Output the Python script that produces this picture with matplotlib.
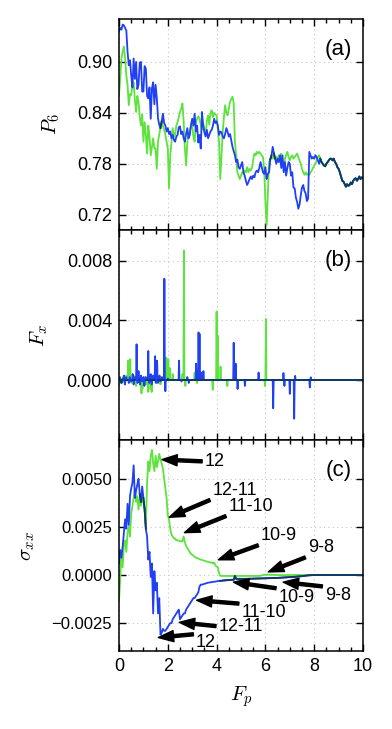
"""Three stacked panels: P6, Fx and sigma_xx against the driving force Fp."""
import matplotlib
matplotlib.use("Agg")
import matplotlib.pyplot as plt
import numpy as np
from matplotlib.ticker import FixedLocator, FuncFormatter, MultipleLocator

GREEN = "#5ce33c"
BLUE = "#1f40f5"
DARK = "#0e3a5c"

# ---- panel (a): P6, one value every 0.05 in Fp (0 .. 10) ----
p6_blue = [
    0.936, 0.940, 0.938, 0.944, 0.943, 0.940, 0.937, 0.912, 0.896, 0.902,
    0.884, 0.870, 0.904, 0.880, 0.900, 0.868, 0.873, 0.899, 0.900, 0.865,
    0.865, 0.895, 0.892, 0.860, 0.857, 0.870, 0.833, 0.869, 0.876, 0.850,
    0.873, 0.857, 0.833, 0.826, 0.822, 0.830, 0.839, 0.828, 0.825, 0.818,
    0.822, 0.815, 0.818, 0.810, 0.814, 0.808, 0.806, 0.812, 0.814, 0.823,
    0.824, 0.815, 0.818, 0.810, 0.806, 0.815, 0.822, 0.810, 0.814, 0.826,
    0.833, 0.825, 0.839, 0.818, 0.825, 0.805, 0.814, 0.798, 0.841, 0.825,
    0.817, 0.812, 0.820, 0.810, 0.814, 0.818, 0.820, 0.825, 0.833, 0.828,
    0.830, 0.825, 0.814, 0.818, 0.817, 0.812, 0.810, 0.815, 0.822, 0.818,
    0.812, 0.815, 0.808, 0.800, 0.795, 0.790, 0.782, 0.785, 0.776, 0.774,
    0.778, 0.782, 0.770, 0.766, 0.760, 0.755, 0.758, 0.762, 0.765, 0.762,
    0.766, 0.764, 0.770, 0.772, 0.770, 0.775, 0.782, 0.776, 0.770, 0.768,
    0.776, 0.762, 0.768, 0.770, 0.785, 0.790, 0.800, 0.792, 0.786, 0.780,
    0.786, 0.782, 0.790, 0.775, 0.790, 0.770, 0.782, 0.766, 0.775, 0.782,
    0.780, 0.766, 0.770, 0.752, 0.751, 0.740, 0.735, 0.727, 0.732, 0.743,
    0.752, 0.755, 0.748, 0.745, 0.736, 0.739, 0.794, 0.790, 0.786, 0.788,
    0.786, 0.790, 0.788, 0.784, 0.780, 0.786, 0.782, 0.780, 0.778, 0.777,
    0.780, 0.782, 0.784, 0.786, 0.786, 0.784, 0.786, 0.782, 0.780, 0.776,
    0.774, 0.770, 0.765, 0.760, 0.759, 0.756, 0.753, 0.756, 0.754, 0.755,
    0.758, 0.756, 0.760, 0.762, 0.763, 0.760, 0.762, 0.765, 0.762, 0.764,
    0.763,
]
# green only up to Fp = 8.45, from there it lies on the blue curve
p6_green_head = [
    0.861, 0.880, 0.904, 0.912, 0.918, 0.904, 0.884, 0.873, 0.849, 0.862,
    0.861, 0.872, 0.876, 0.855, 0.841, 0.860, 0.853, 0.835, 0.825, 0.838,
    0.806, 0.829, 0.814, 0.792, 0.825, 0.812, 0.790, 0.800, 0.810, 0.798,
    0.798, 0.774, 0.806, 0.815, 0.822, 0.830, 0.825, 0.820, 0.814, 0.806,
    0.798, 0.751, 0.790, 0.805, 0.822, 0.812, 0.814, 0.825, 0.829, 0.835,
    0.841, 0.845, 0.851, 0.830, 0.798, 0.778, 0.806, 0.815, 0.818, 0.825,
    0.825, 0.812, 0.806, 0.828, 0.833, 0.836, 0.833, 0.826, 0.820, 0.828,
    0.820, 0.814, 0.830, 0.837, 0.826, 0.840, 0.843, 0.835, 0.840, 0.838,
    0.837, 0.820, 0.806, 0.762, 0.790, 0.817, 0.835, 0.849, 0.840, 0.837,
    0.845, 0.853, 0.856, 0.859, 0.852, 0.806, 0.790, 0.770, 0.766, 0.762,
    0.766, 0.770, 0.768, 0.772, 0.770, 0.776, 0.770, 0.774, 0.772, 0.775,
    0.785, 0.792, 0.790, 0.794, 0.792, 0.794, 0.792, 0.790, 0.788, 0.774,
    0.735, 0.707, 0.745, 0.782, 0.786, 0.788, 0.786, 0.790, 0.786, 0.788,
    0.786, 0.790, 0.788, 0.792, 0.780, 0.774, 0.786, 0.790, 0.794, 0.788,
    0.784, 0.788, 0.790, 0.786, 0.788, 0.790, 0.792, 0.788, 0.784, 0.780,
    0.774, 0.770, 0.767, 0.770, 0.767, 0.768, 0.767, 0.770, 0.772, 0.775,
    0.778, 0.780, 0.784, 0.788, 0.790, 0.786, 0.782, 0.780, 0.778, 0.777,
]

# ---- panel (b): Fx, isolated spikes on a zero baseline ----
fx_blue_at = [
    0.04, 0.10, 0.16, 0.20, 0.24, 0.30, 0.40, 0.44, 0.50, 0.56, 0.60, 0.66,
    0.72, 0.76, 0.80, 0.86, 0.90, 0.96, 1.00, 1.04, 1.10, 1.20, 1.24, 1.30,
    1.34, 1.40, 1.48, 1.52, 1.56, 1.60, 1.66, 1.70, 1.76, 1.86, 1.90, 2.00,
    2.46, 2.56, 2.80, 2.86, 3.16, 3.26, 3.30, 3.36, 3.46, 4.70, 4.78, 4.86,
    5.16, 5.72, 6.32, 6.74, 6.78, 7.00, 7.18, 7.22, 7.82, 7.86,
]
fx_blue_val = [
    0.0002, -0.0002, 0.0001, 0.0003, -0.0003, 0.0002, -0.0002, 0.0002,
    -0.0001, 0.0004, -0.0003, 0.0002, 0.0024, -0.0002, 0.0006, -0.0003,
    0.0003, -0.0001, 0.0002, -0.0004, 0.0002, 0.00195, -0.0002, 0.0004,
    -0.0003, 0.0003, 0.0016, -0.0002, 0.0013, -0.0002, 0.0003, -0.0001,
    0.0002, 0.0068, -0.00075, 0.0001, 0.0013, -0.0001, 0.0002, -0.0002,
    0.0011, 0.0032, 0.0031, 0.0005, 0.0006, 0.0025, 0.0011, -0.0006,
    -0.0004, 0.0005, -0.0019, 0.00047, -0.0004, -0.00093, -0.0026, 0.00028,
    -0.0005, 0.00018,
]
fx_green_at = [
    0.00, 0.06, 0.10, 0.16, 0.20, 0.30, 0.38, 0.42, 0.46, 0.50, 0.60, 0.70,
    0.80, 0.92, 0.96, 1.06, 1.10, 1.20, 1.30, 1.34, 1.40, 1.50, 1.60, 1.70,
    1.94, 2.02, 2.08, 2.20, 2.60, 2.66, 2.72, 3.10, 3.20, 3.84, 4.00, 4.04,
    4.16, 4.44, 5.98, 6.02,
]
fx_green_val = [
    -0.0003, 0.0001, -0.0002, 0.0002, -0.0001, 0.0003, 0.0013, 0.0008,
    0.0014, -0.0002, 0.0003, -0.0004, 0.0002, -0.0009, -0.0006, 0.0002,
    -0.0003, -0.0008, -0.0006, -0.0008, 0.0002, -0.0002, 0.0002, -0.0003,
    0.0015, 0.0014, 0.0008, 0.0004, 0.0004, 0.0087, -0.0004, 0.0005,
    -0.0002, -0.00066, 0.0046, 0.0030, 0.0009, -0.0004, -0.0004, 0.0041,
]

# ---- panel (c): sigma_xx, every 0.05 up to Fp = 4.95, then every 0.25 ----
sxx_green = [
    -0.0013, -0.0002, 0.0012, 0.0004, 0.0016, 0.0018, 0.0012, 0.0022, 0.0025, 0.0020,
    0.0032, 0.0036, 0.0040, 0.0045, 0.0038, 0.0041, 0.0034, 0.0040, 0.0036, 0.0042,
    0.0038, 0.0034, 0.0026, 0.0048, 0.0059, 0.0054, 0.0062, 0.0065, 0.0058, 0.0054,
    0.0062, 0.0056, 0.0059, 0.0063, 0.0060, 0.0058, 0.0055, 0.0050, 0.0045, 0.0040,
    0.0031, 0.0029, 0.0024, 0.0021, 0.0020, 0.0019, 0.0019, 0.0018, 0.0018, 0.0018,
    0.00175, 0.00175, 0.00175, 0.0020, 0.0017, 0.0015, 0.0014, 0.0013, 0.0012, 0.0011,
    0.00105, 0.0010, 0.00095, 0.0009, 0.00088, 0.00085, 0.00082, 0.0008, 0.00078, 0.00076,
    0.00074, 0.00072, 0.0007, 0.00068, 0.00066, 0.00065, 0.00064, 0.0006, 0.00065, 0.0005,
    0.00044, 0.0004, 0.0001, -0.00004, -0.00005, -0.00005, -0.00005, -0.00005, -0.00005, -0.00005,
    -0.00005, -0.00005, -0.00005, -0.00005, -0.00005, -0.00005, -0.00005, -0.00005, -0.00005, -0.00005,
    # coarse part, Fp = 5.0 .. 10.0
    -0.00005, -0.00005, -0.00005, -0.00005, 0.00002, 0.00001, 0.0, -0.00001, 0.0, 0.0,
    0.0, 0.0, 0.0, 0.0, 0.0, 0.0, 0.0, 0.0, 0.0, 0.0, 0.0,
]
sxx_blue = [
    0.0006, 0.0013, 0.0009, 0.0015, 0.0022, 0.0029, 0.0024, 0.0037, 0.0026, 0.0041,
    0.0045, 0.0048, 0.0057, 0.0040, 0.0044, 0.0047, 0.0050, 0.0042, 0.0038, 0.0046,
    0.0040, 0.0034, 0.0024, 0.0020, 0.0008, 0.0012, -0.0001, 0.0006, -0.0020, 0.0002,
    -0.0008, -0.0004, -0.0020, -0.0012, -0.0031, -0.0030, -0.0028, -0.0029, -0.0029, -0.0028,
    -0.0027, -0.0026, -0.0025, -0.0025, -0.0023, -0.0022, -0.0021, -0.0020, -0.0019, -0.0018,
    -0.0023, -0.0022, -0.0021, -0.0020, -0.0020, -0.0018, -0.0017, -0.0016, -0.0015, -0.0014,
    -0.0013, -0.0012, -0.0012, -0.0011, -0.0010, -0.0009, -0.0006, -0.0005, -0.0005, -0.00048,
    -0.00046, -0.00044, -0.00042, -0.0004, -0.00039, -0.00038, -0.00037, -0.00036, -0.00035, -0.00034,
    -0.00033, -0.00032, -0.00031, -0.0003, -0.0003, -0.00029, -0.00028, -0.00028, -0.00027, -0.00027,
    -0.00026, -0.00026, -0.00025, -0.00025, -0.00025, -0.00005, -0.0002, -0.0002, -0.0002, -0.0002,
    # coarse part, Fp = 5.0 .. 10.0
    -0.0002, -0.0002, -0.00019, -0.00018, -0.00017, -0.00016, -0.00015, -0.00013, -0.00011, -0.00009,
    -0.00006, -0.00002, 0.0, 0.0, 0.0, 0.0, 0.0, 0.0, 0.0, 0.0, 0.0,
]

# arrow labels in (c): text, text centre, arrow tip (data coords)
sxx_notes = [
    ("12", (3.93, 0.0059), (1.76, 0.0060)),
    ("12-11", (4.75, 0.0044), (2.06, 0.0030)),
    ("11-10", (5.41, 0.00356), (2.68, 0.0022)),
    ("10-9", (6.56, 0.00204), (4.07, 0.00079)),
    ("9-8", (8.28, 0.00141), (6.12, 0.00016)),
    ("9-8", (8.98, -0.00105), (6.73, -0.00037)),
    ("10-9", (7.29, -0.00115), (4.69, -0.00037)),
    ("11-10", (5.94, -0.00194), (3.18, -0.00131)),
    ("12-11", (5.0, -0.00267), (2.47, -0.00246)),
    ("12", (3.57, -0.00351), (1.61, -0.00325)),
]


def _pair(ax, x, green, blue, tol):
    """Green, then blue, then a dark trace where the two coincide."""
    green = np.asarray(green, dtype=float)
    blue = np.asarray(blue, dtype=float)
    ax.plot(x, green, color=GREEN, lw=1.3)
    ax.plot(x, blue, color=BLUE, lw=1.3)
    same = np.where(np.abs(green - blue) <= tol, blue, np.nan)
    ax.plot(x, same, color=DARK, lw=1.3)


def _spikes(x, at, val):
    out = np.zeros_like(x)
    idx = np.rint(np.asarray(at) / (x[1] - x[0])).astype(int)
    out[idx] = val
    return out


def _style(ax, ticks, fmt, ylim, tag, size):
    ax.set_xlim(0, 10)
    ax.set_ylim(*ylim)
    ax.yaxis.set_major_locator(FixedLocator(ticks))
    ax.yaxis.set_major_formatter(
        FuncFormatter(lambda v, _: (fmt % v).replace("-", "\u2212")))
    ax.xaxis.set_major_locator(MultipleLocator(2))
    ax.xaxis.set_minor_locator(MultipleLocator(0.5))
    ax.tick_params(which="both", direction="in", top=True, right=True,
                   width=1.0)
    ax.tick_params(axis="y", labelsize=size)
    ax.tick_params(axis="x", labelsize=13)
    ax.tick_params(which="major", length=5, pad=5)
    ax.tick_params(which="minor", length=3)
    ax.grid(True, which="major", linestyle=(0, (1, 3)), color="#c4c4c4",
            linewidth=0.8)
    ax.set_axisbelow(True)
    for sp in ax.spines.values():
        sp.set_linewidth(1.1)
    ax.text(0.955, 0.855, tag, transform=ax.transAxes, ha="right",
            va="center", fontsize=16)


def main() -> None:
    plt.rcParams["font.family"] = ["Liberation Sans", "DejaVu Sans"]
    plt.rcParams["mathtext.fontset"] = "cm"

    fig, (ax_a, ax_b, ax_c) = plt.subplots(3, 1, sharex=True,
                                           figsize=(3.92, 7.29), dpi=100)
    fig.subplots_adjust(left=0.3036, right=0.926, top=0.974, bottom=0.107,
                        hspace=0)

    # (a)
    x_a = np.arange(len(p6_blue)) * 0.05
    p6_green = p6_green_head + p6_blue[len(p6_green_head):]
    _pair(ax_a, x_a, p6_green, p6_blue, 0.003)
    _style(ax_a, [0.72, 0.78, 0.84, 0.90], "%.2f", (0.7024, 0.9506), "(a)", 13)
    ax_a.set_ylabel("$P_6$", fontsize=15)
    ax_a.yaxis.set_label_coords(-0.234, 0.5)

    # (b)
    x_b = np.linspace(0, 10, 501)
    fx_green = _spikes(x_b, fx_green_at, fx_green_val)
    fx_blue = _spikes(x_b, fx_blue_at, fx_blue_val)
    _pair(ax_b, x_b, fx_green, fx_blue, 1e-6)
    _style(ax_b, [0.0, 0.004, 0.008], "%.3f", (-0.00405, 0.0101), "(b)", 13)
    ax_b.set_ylabel("$F_x$", fontsize=15)
    ax_b.yaxis.set_label_coords(-0.283, 0.5)

    # (c)
    x_c = np.concatenate([np.arange(100) * 0.05, 5 + np.arange(21) * 0.25])
    _pair(ax_c, x_c, sxx_green, sxx_blue, 0.0004)
    _style(ax_c, [-0.0025, 0.0, 0.0025, 0.005], "%.4f",
           (-0.00395, 0.0070), "(c)", 12)
    ax_c.set_ylabel(r"$\sigma_{xx}$", fontsize=15)
    ax_c.yaxis.set_label_coords(-0.336, 0.5)
    ax_c.set_xlabel("$F_p$", fontsize=15)
    ax_c.xaxis.set_label_coords(0.5, -0.16)
    for label, txt_xy, tip_xy in sxx_notes:
        ax_c.annotate(label, xy=tip_xy, xytext=txt_xy, ha="center",
                      va="center", fontsize=13,
                      arrowprops=dict(facecolor="black", edgecolor="black",
                                      width=2.2, headwidth=8, headlength=11,
                                      shrink=0.0))

    fig.savefig("out.png", dpi=100)


if __name__ == "__main__":
    main()
